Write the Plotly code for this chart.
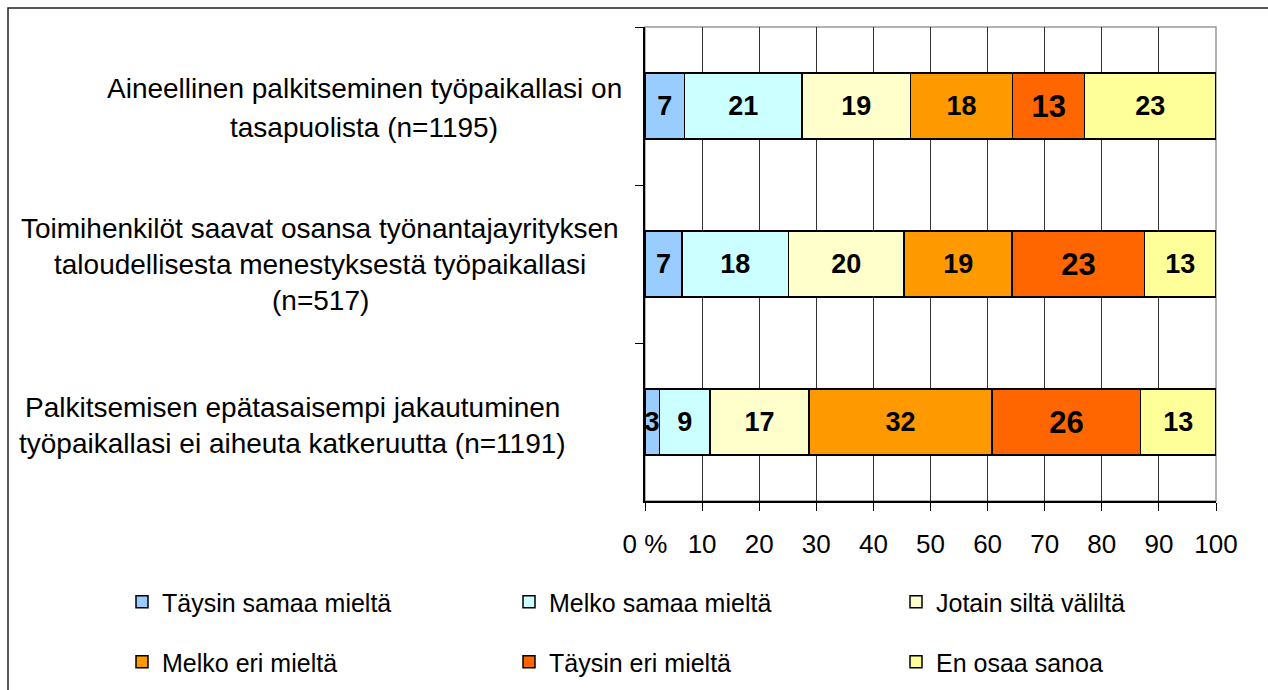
import plotly.graph_objects as go

# ---------------- data ----------------
categories = [
    "Aineellinen palkitseminen työpaikallasi on tasapuolista (n=1195)",
    "Toimihenkilöt saavat osansa työnantajayrityksen taloudellisesta menestyksestä työpaikallasi (n=517)",
    "Palkitsemisen epätasaisempi jakautuminen työpaikallasi ei aiheuta katkeruutta (n=1191)",
]
category_lines = [
    ["Aineellinen palkitseminen työpaikallasi on", "tasapuolista (n=1195)"],
    ["Toimihenkilöt saavat osansa työnantajayrityksen", "taloudellisesta menestyksestä työpaikallasi", "(n=517)"],
    ["Palkitsemisen epätasaisempi jakautuminen", "työpaikallasi ei aiheuta katkeruutta (n=1191)"],
]
series_names = [
    "Täysin samaa mieltä",
    "Melko samaa mieltä",
    "Jotain siltä väliltä",
    "Melko eri mieltä",
    "Täysin eri mieltä",
    "En osaa sanoa",
]
# bar lengths (percent) per series, one value per category
taysin_samaa = [6.9, 6.5, 2.5]
melko_samaa = [20.6, 18.6, 8.9]
jotain = [19.0, 20.3, 17.3]
melko_eri = [17.9, 18.9, 32.1]
taysin_eri = [12.6, 23.2, 26.0]
en_osaa = [23.0, 12.5, 13.2]
# printed data labels
lbl_taysin_samaa = [7, 7, 3]
lbl_melko_samaa = [21, 18, 9]
lbl_jotain = [19, 20, 17]
lbl_melko_eri = [18, 19, 32]
lbl_taysin_eri = [13, 23, 26]
lbl_en_osaa = [23, 13, 13]
x_tickvals = [0, 10, 20, 30, 40, 50, 60, 70, 80, 90, 100]
x_ticktext = ["0 %", "10", "20", "30", "40", "50", "60", "70", "80", "90", "100"]

values = [taysin_samaa, melko_samaa, jotain, melko_eri, taysin_eri, en_osaa]
labels = [lbl_taysin_samaa, lbl_melko_samaa, lbl_jotain, lbl_melko_eri, lbl_taysin_eri, lbl_en_osaa]
colors = ["#99CCFF", "#CCFFFF", "#FFFFCC", "#FF9900", "#FF6600", "#FFFF99"]
label_sizes = [27, 27, 27, 27, 31, 27]

FONT = "Liberation Sans, Arial, sans-serif"
W, H = 1268, 690
L, R, T, B = 645, 52, 27, 189
pw = W - L - R
ph = H - T - B


def px_x(px):
    return (px - L) / pw


def px_y(py):
    return (H - B - py) / ph


fig = go.Figure()
for i, (name, vals, labs) in enumerate(zip(series_names, values, labels)):
    fig.add_trace(go.Bar(
        y=categories, x=vals, name=name, orientation="h",
        marker=dict(color=colors[i], line=dict(color="black", width=1.5)),
        text=[str(v) for v in labs], textposition="inside",
        insidetextanchor="middle", constraintext="none",
        textfont=dict(family=FONT, size=label_sizes[i], color="black", weight="bold"),
        showlegend=True,
        legend="legend" if i < 3 else "legend2",
        hoverinfo="skip",
    ))

# category labels as centered multi-line text blocks
row_centers_px = [364, 320, 292]
line_offsets = [[18, -21], [36, 0, -36], [15, -21]]
annotations = []
for cat, lines, cx, offs in zip(categories, category_lines, row_centers_px, line_offsets):
    for line, dy in zip(lines, offs):
        annotations.append(dict(
            x=px_x(cx), xref="paper", xanchor="center",
            y=cat, yref="y", yanchor="middle", yshift=dy,
            text=line, showarrow=False,
            font=dict(family=FONT, size=28, color="black"),
        ))

shapes = [
    # plot area border (gray)
    dict(type="rect", xref="paper", yref="paper", x0=0, x1=1, y0=0, y1=1,
         line=dict(color="#999999", width=1.5), layer="below"),
    # outer frame
    dict(type="rect", xref="paper", yref="paper",
         x0=px_x(8), x1=px_x(W + 20), y0=px_y(H + 20), y1=px_y(8),
         line=dict(color="#222222", width=1.5)),
]

legend_common = dict(
    orientation="h", xref="paper", yref="paper",
    xanchor="left", yanchor="middle",
    font=dict(family=FONT, size=25, color="black"),
    entrywidth=342, entrywidthmode="pixels",
    itemwidth=30, bgcolor="rgba(0,0,0,0)", traceorder="normal",
)

fig.update_layout(
    width=W, height=H,
    margin=dict(l=L, r=R, t=T, b=B, pad=0, autoexpand=False),
    barmode="stack", bargap=0.58,
    plot_bgcolor="white", paper_bgcolor="white",
    font=dict(family=FONT, size=24, color="black"),
    xaxis=dict(
        range=[0, 100], tickvals=x_tickvals, ticktext=x_ticktext,
        showgrid=True, gridcolor="#333333", gridwidth=1,
        showline=True, linecolor="black", linewidth=1.5,
        ticks="outside", ticklen=8, tickcolor="black", tickwidth=1,
        tickfont=dict(family=FONT, size=26, color="black"),
        ticklabelstandoff=11, zeroline=False, fixedrange=True,
    ),
    yaxis=dict(
        categoryorder="array", categoryarray=categories,
        autorange="reversed",
        showticklabels=False, showgrid=False,
        showline=True, linecolor="black", linewidth=1.5,
        ticks="outside", ticklen=8, tickcolor="black", tickson="boundaries",
        zeroline=False, fixedrange=True,
    ),
    legend=dict(x=px_x(122), y=px_y(602), **legend_common),
    legend2=dict(x=px_x(122), y=px_y(662), **legend_common),
    annotations=annotations,
    shapes=shapes,
)

fig.write_html("out.html", config={"displayModeBar": False},
               post_script="document.body.style.margin='0';")
